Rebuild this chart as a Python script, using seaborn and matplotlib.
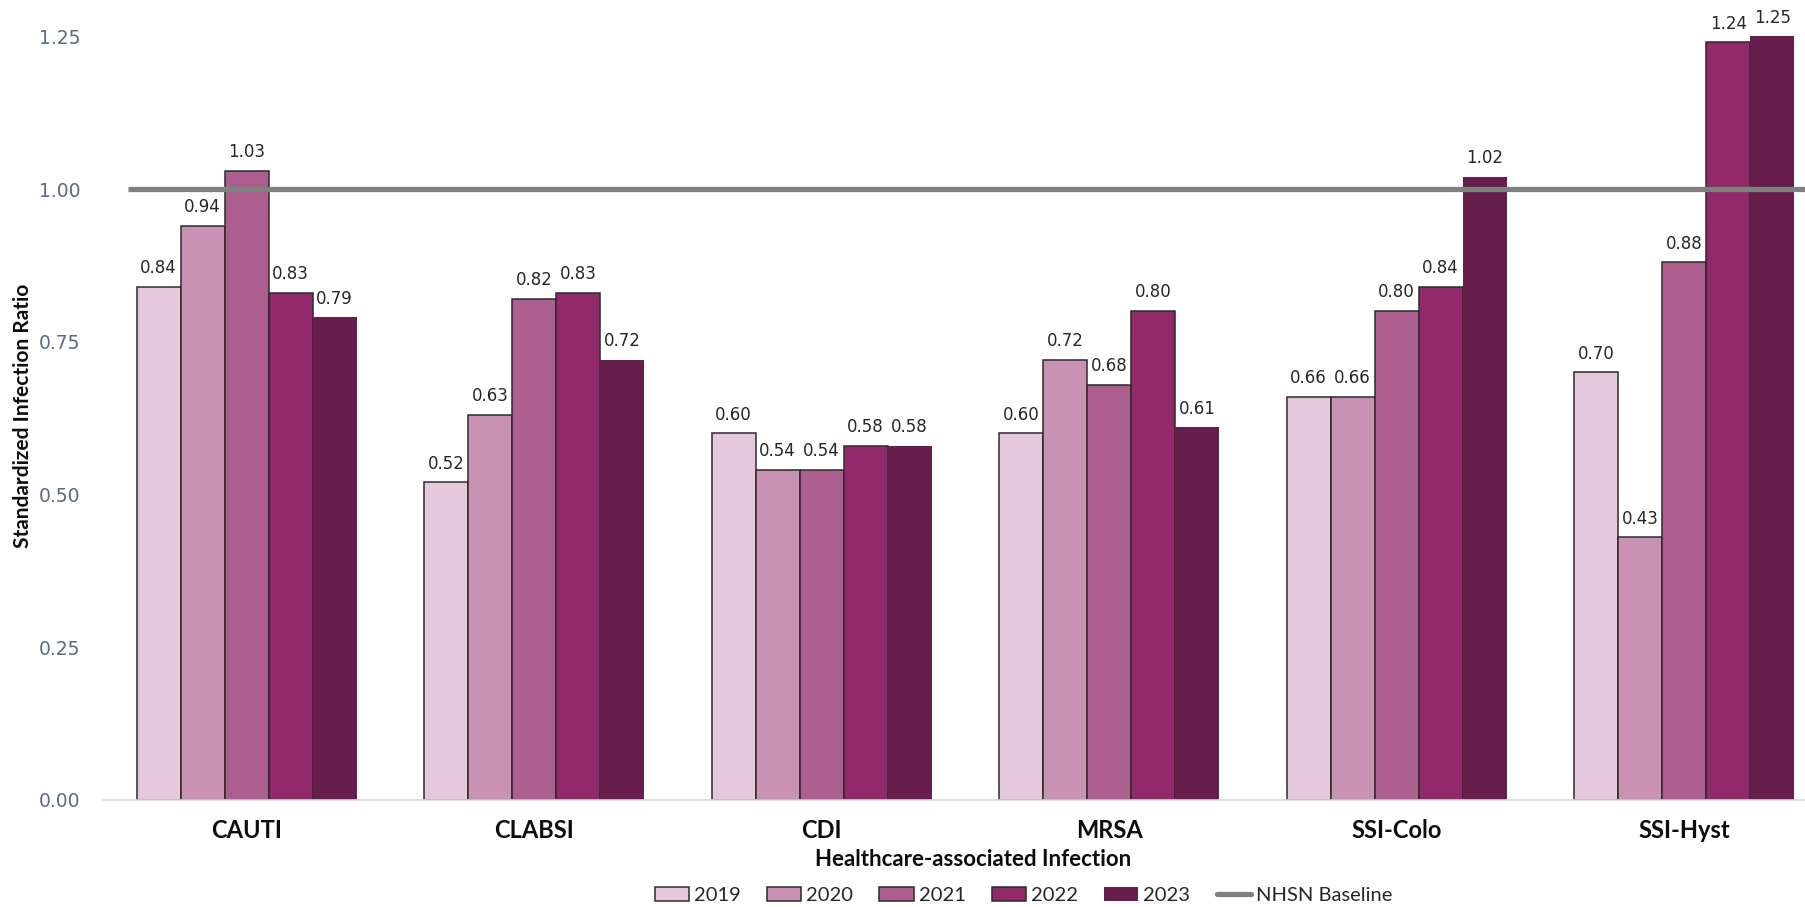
import matplotlib
matplotlib.use("Agg")
import matplotlib.pyplot as plt
from matplotlib.lines import Line2D
import seaborn as sns
import pandas as pd

infections = ["CAUTI", "CLABSI", "CDI", "MRSA", "SSI-Colo", "SSI-Hyst"]
years = ["2019", "2020", "2021", "2022", "2023"]
sir_2019 = [0.84, 0.52, 0.60, 0.60, 0.66, 0.70]
sir_2020 = [0.94, 0.63, 0.54, 0.72, 0.66, 0.43]
sir_2021 = [1.03, 0.82, 0.54, 0.68, 0.80, 0.88]
sir_2022 = [0.83, 0.83, 0.58, 0.80, 0.84, 1.24]
sir_2023 = [0.79, 0.72, 0.58, 0.61, 1.02, 1.25]
baseline = 1.00

year_colors = ["#E5C8DB", "#C991B4", "#AC5E8E", "#92296B", "#671E4D"]

series = [sir_2019, sir_2020, sir_2021, sir_2022, sir_2023]
rows = []
for yr, vals in zip(years, series):
    for inf, v in zip(infections, vals):
        rows.append({"infection": inf, "year": yr, "sir": v})
df = pd.DataFrame(rows)

sns.set_theme(style="white")
plt.rcParams["font.family"] = ["DejaVu Sans"]

fig = plt.figure(figsize=(18.05, 9.07), dpi=100)
ax = fig.add_axes([0.057, 0.118, 0.943, 0.842])

sns.barplot(data=df, x="infection", y="sir", hue="year", order=infections,
            hue_order=years, palette=year_colors, width=0.765, dodge=True,
            errorbar=None, legend=False, ax=ax, saturation=1)

for i, cont in enumerate(ax.containers):
    for patch in cont:
        if i < 4:
            patch.set_edgecolor("#2b2b2b")
            patch.set_linewidth(1.1)
        else:
            patch.set_edgecolor("none")
            patch.set_linewidth(0)
    ax.bar_label(cont, fmt="%.2f", padding=7, fontsize=12, color="#262626")

ax.set_xlim(-0.5, 5.42)
ax.set_ylim(0, 1.25)
ticks = [0, 0.25, 0.5, 0.75, 1.0, 1.25]
ax.set_yticks(ticks)
ax.set_yticklabels([f"{t:.2f}" for t in ticks], fontsize=13.5, color="#596A83")
ax.tick_params(axis="y", length=0, pad=16)
ax.tick_params(axis="x", length=0, pad=14)
for lbl in ax.get_xticklabels():
    lbl.set_fontfamily("Lato")
    lbl.set_fontweight("bold")
    lbl.set_fontsize(17)
    lbl.set_color("#0d0d0d")

for s in ["top", "right", "left"]:
    ax.spines[s].set_visible(False)
ax.spines["bottom"].set_color("#D9D9D9")
ax.spines["bottom"].set_linewidth(1.2)

ax.hlines(baseline, -0.413, 5.42, color="#808080", linewidth=3.8, zorder=5)

ax.set_xlabel("")
ax.set_ylabel("")
fig.text(0.539, 0.052, "Healthcare-associated Infection", ha="center", va="center",
         fontfamily="Lato", fontweight="bold", fontsize=16, color="#0d0d0d")
fig.text(0.013, 0.542, "Standardized Infection Ratio", ha="center", va="center",
         rotation=90, fontfamily="Lato", fontweight="bold", fontsize=15,
         color="#0d0d0d")

handles = [plt.Rectangle((0, 0), 1, 1, facecolor=c,
                         edgecolor="#2b2b2b" if i < 4 else "none", linewidth=1.1)
           for i, c in enumerate(year_colors)]
handles.append(Line2D([0], [0], color="#808080", linewidth=3.8))
labels = years + ["NHSN Baseline"]
fig.legend(handles, labels, loc="center", bbox_to_anchor=(0.567, 0.013), ncol=6,
           frameon=False, prop={"family": "Lato", "size": 14.5},
           handlelength=1.7, handleheight=0.75, handletextpad=0.25,
           columnspacing=1.3)

fig.savefig("out.png", dpi=100, facecolor="white")
